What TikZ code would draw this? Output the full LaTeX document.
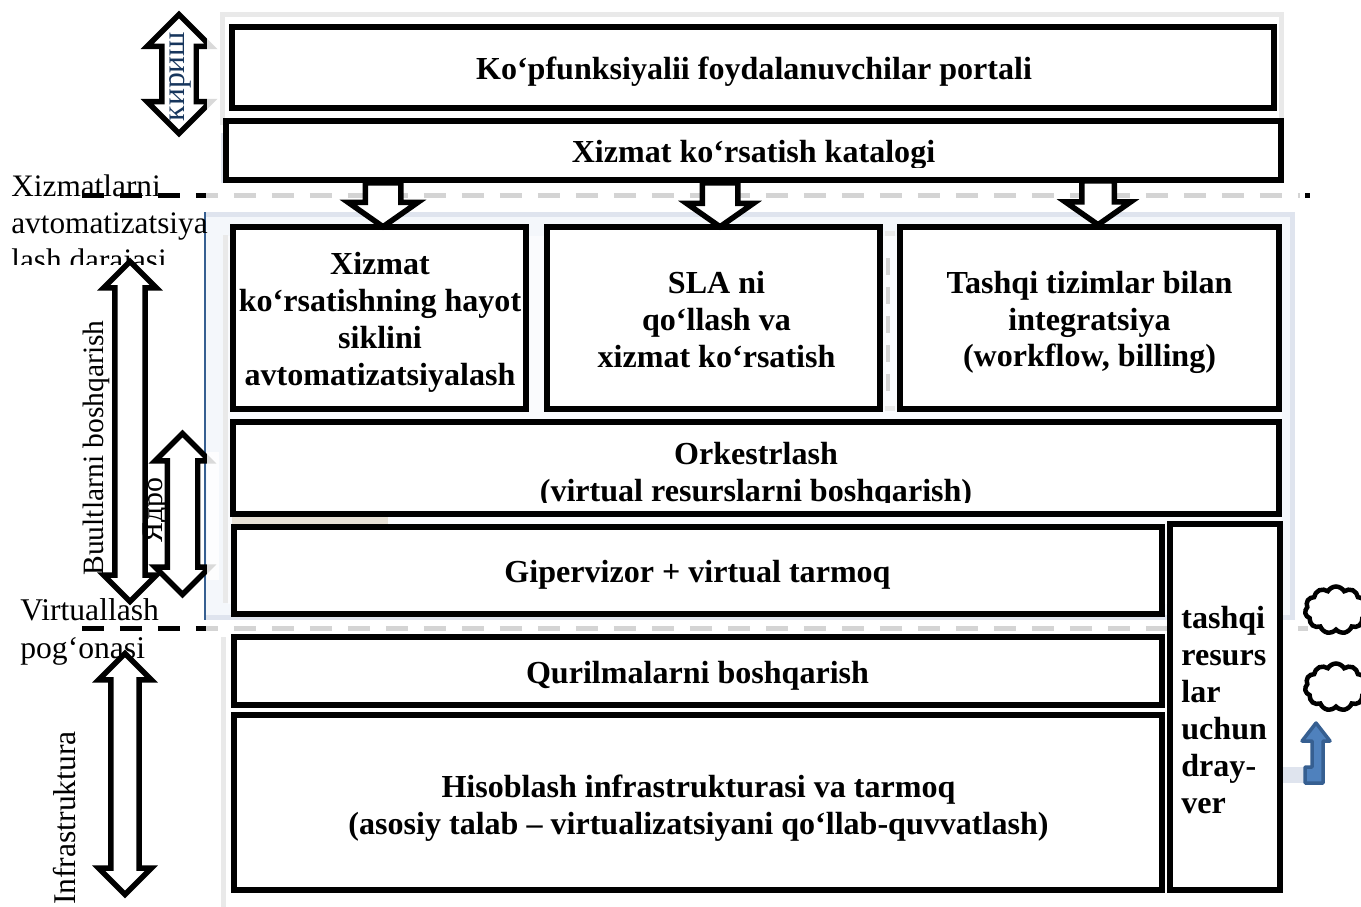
\documentclass[tikz,border=0pt]{standalone}
\usepackage{fontspec}
\setmainfont{Liberation Serif}
\usetikzlibrary{arrows,shapes,positioning}
\definecolor{framegray}{HTML}{E9E9E9}
\definecolor{frameblue}{HTML}{DFE4EE}
\definecolor{paleblue}{HTML}{F4F7FB}
\definecolor{edgeblue}{HTML}{365F91}
\definecolor{dashgray}{HTML}{D4D4D4}
\definecolor{blockblue}{HTML}{4F81BD}
\definecolor{inkblue}{HTML}{17365D}
\definecolor{beigebar}{HTML}{E8E1D6}
\tikzset{layerbox/.style={shape=rectangle, draw=black, fill=white, line width=.12cm, inner sep=0pt}}
\tikzset{layertext/.style={inner sep=0pt, align=center, font=\fontsize{18.25}{21}\selectfont\bfseries}}
\tikzset{sidetext/.style={inner sep=0pt, font=\fontsize{18}{21}\selectfont}}
\tikzset{leveltext/.style={sidetext, align=left, anchor=north west}}
\tikzset{twoway/.style={shape=double arrow, draw=black, fill=white, line width=.11cm, rotate=90,
    inner xsep=0pt, miter limit=10}}
\tikzset{oneway/.style={shape=single arrow, draw=black, fill=white, line width=.11cm, rotate=-90,
    inner xsep=0pt, anchor=tail, minimum height=.88cm, single arrow tip angle=110, miter limit=10}}
\tikzset{levelblack/.style={draw=black, line width=.1cm, dash pattern=on .44cm off .32cm}}
\tikzset{levelgray/.style={draw=dashgray, line width=.1cm, dash pattern=on .44cm off .32cm, dash phase=.2cm}}
\tikzset{cloudy/.style={shape=cloud, draw=black, fill=white, line width=.09cm, cloud puffs=11,
    cloud puff arc=120, aspect=1.3, inner sep=0pt, minimum width=1.24cm, minimum height=.94cm}}

\begin{document}
\begin{tikzpicture}[x=.02cm, y=-.02cm]
    \useasboundingbox (0,0) rectangle (1361,906);

    %%%% Background frames
    \path[fill=white, draw=framegray, line width=.1cm] (222,14.5) rectangle (1281,122);
    \path[fill=frameblue] (220.5,133) rectangle (224,183);
    \path[fill=paleblue] (205,212) rectangle (1292,620);
    \draw[frameblue, line width=.1cm] (205,214.5) -- (1292.5,214.5) -- (1292.5,617.5) -- (205,617.5);
    \path[fill=white!50!paleblue] (228,236) rectangle (1282,604);
    \draw[framegray, line width=.1cm] (225,235) -- (225,603);
    \draw[framegray, line width=.1cm] (885,233) -- (895,233);
    \draw[framegray, line width=.1cm] (885,408) -- (895,408);
    \draw[edgeblue, line width=.05cm] (205,212) -- (205,620);
    \path[fill=beigebar] (232,517) rectangle (388,525);
    \draw[framegray, line width=.1cm] (223.5,908) -- (223.5,637);

    %%%% Level lines
    \coordinate (l1a) at (82,195);
    \coordinate (l1b) at (206,195);
    \coordinate (l1c) at (1300,195);
    \coordinate (l1d) at (1305,195);
    \coordinate (l1e) at (1310,195);
    \coordinate (l2a) at (82,628);
    \coordinate (l2b) at (206,628);
    \coordinate (l2c) at (1308,628);
    \coordinate (l3a) at (888,258);
    \coordinate (l3b) at (888,392);
    \draw[levelgray] (l1b) -- (l1c);
    \draw[levelgray] (l2b) -- (l2c);
    \draw[levelblack] (l1a) -- (l1b);
    \draw[levelblack] (l2a) -- (l2b);
    \draw[draw=black, line width=.1cm] (l1d) -- (l1e);
    \draw[draw=dashgray, line width=.08cm, dash pattern=on .34cm off .24cm] (l3a) -- (l3b);

    %%%% Layers
    \node[layerbox, minimum width=20.84cm, minimum height=1.62cm](portal) at (753,67.5) {};
    \node[layerbox, minimum width=21.1cm, minimum height=1.18cm](catalog) at (753.5,150.5) {};
    \node[layerbox, minimum width=5.86cm, minimum height=3.64cm](lifecycle) at (379.5,318) {};
    \node[layerbox, minimum width=6.66cm, minimum height=3.64cm](sla) at (713.5,318) {};
    \node[layerbox, minimum width=7.58cm, minimum height=3.64cm](external) at (1089.5,318) {};
    \node[layerbox, minimum width=20.92cm, minimum height=1.84cm](orchestr) at (756,468) {};
    \node[layerbox, minimum width=18.57cm, minimum height=1.74cm](hypervisor) at (698.25,570.5) {};
    \node[layerbox, minimum width=18.57cm, minimum height=1.36cm](devices) at (698.25,671) {};
    \node[layerbox, minimum width=18.57cm, minimum height=3.5cm](compute) at (698.25,802.5) {};
    \node[layerbox, minimum width=2.2cm, minimum height=7.32cm](drivers) at (1225,707) {};

    %%%% Layer texts
    \node[layertext](portaltext) at (754,71.5) {Ko‘pfunksiyalii foydalanuvchilar portali};
    \node[layertext](lifecycletext) at (380,322.5)
        {Xizmat\\ko‘rsatishning hayot\\siklini\\avtomatizatsiyalash};
    \node[layertext](slatext) at (716.5,319.5) {SLA ni\\qo‘llash va\\xizmat ko‘rsatish};
    \node[layertext](externaltext) at (1089.5,322.5)
        {Tashqi tizimlar bilan\\integratsiya\\(workflow, billing)};
    \node[layertext](hypervisortext) at (697.5,574.5) {Gipervizor + virtual tarmoq};
    \node[layertext](devicestext) at (697.5,676) {Qurilmalarni boshqarish};
    \node[layertext](computetext) at (698.5,808.5)
        {Hisoblash infrastrukturasi va tarmoq\\(asosiy talab – virtualizatsiyani qo‘llab-quvvatlash)};
    \node[layertext, align=left, anchor=west](drivertext) at (1181,710)
        {tashqi\\resurs\\lar\\uchun\\dray-\\ver};
    \begin{scope}
      \clip (230,124) rectangle (1278,167);
      \node[layertext](catalogtext) at (753.5,155) {Xizmat ko‘rsatish katalogi};
    \end{scope}
    \begin{scope}
      \clip (236,425) rectangle (1276,502);
      \node[layertext](orchestrtext) at (756,475) {Orkestrlash\\(virtual resurslarni boshqarish)};
    \end{scope}

    %%%% Arrows down from the catalog
    \node[oneway, inner ysep=.3cm, single arrow head extend=.34cm](down1) at (383,180) {};
    \node[oneway, inner ysep=.3cm, single arrow head extend=.31cm](down2) at (720,180) {};
    \node[oneway, inner ysep=.27cm, single arrow head extend=.33cm](down3) at (1098,178) {};

    %%%% Arrows on the left
    \node[twoway, minimum height=2.38cm, inner ysep=.29cm, double arrow head extend=.29cm](enter) at (179,74) {};
    \node[twoway, minimum height=6.8cm, inner ysep=.25cm, double arrow head extend=.22cm](manage) at (130,431.5) {};
    \node[twoway, minimum height=3.22cm, inner ysep=.25cm, double arrow head extend=.24cm](core) at (182.5,514) {};
    \node[twoway, minimum height=4.82cm, inner ysep=.23cm, double arrow head extend=.24cm](infra) at (125,774) {};
    \path[fill=white, opacity=.85] (206.5,38) rectangle (219,112);
    \path[fill=white, opacity=.85] (206.5,452) rectangle (219,580);

    %%%% Labels on the left
    \node[sidetext, rotate=90, text=inkblue](entertext) at (180,76.5) {кириш};
    \node[sidetext, rotate=90, font=\fontsize{16.8}{21}\selectfont](managetext) at (96,448) {Buultlarni boshqarish};
    \node[sidetext, rotate=90, font=\fontsize{17}{21}\selectfont](coretext) at (156,510) {Ядро};
    \node[sidetext, rotate=90](infratext) at (65,818) {Infrastruktura};
    \begin{scope}
      \clip (0,160) rectangle (215,264);
      \node[leveltext, font=\fontsize{17.8}{21}\selectfont](level1) at (11,174.5) {Xizmatlarni\\avtomatizatsiya\\lash darajasi};
    \end{scope}
    \node[leveltext](level2) at (20,598.5) {Virtuallash\\[.5pt]pog‘onasi};

    %%%% Clouds and the bent arrow
    \node[cloudy](cloud1) at (1336,610) {};
    \node[cloudy](cloud2) at (1336,687) {};
    \path[fill=frameblue] (1283,767) rectangle (1305,783);
    \path[fill=blockblue, draw=edgeblue, line width=.07cm, line join=round]
        (1305,783) -- (1323,783) -- (1323,741) -- (1330,741) -- (1316,723) -- (1302,741)
        -- (1312,741) -- (1312,767) -- (1305,767) -- cycle;
\end{tikzpicture}
\end{document}
